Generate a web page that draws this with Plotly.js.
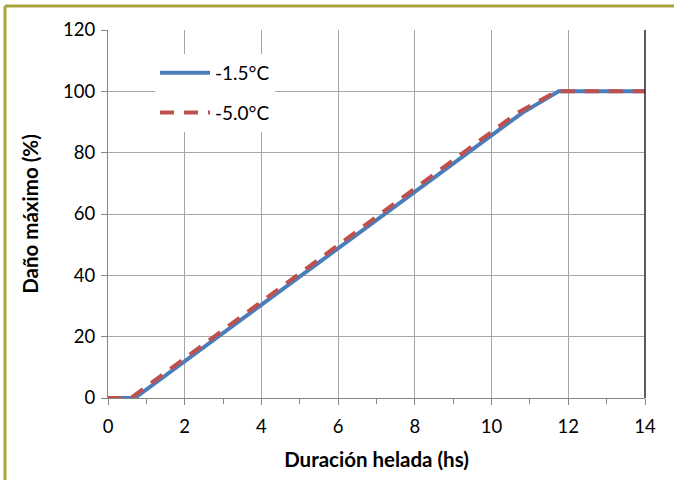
<!DOCTYPE html>
<html>
<head>
<meta charset="utf-8">
<script src="https://cdn.plot.ly/plotly-3.0.1.min.js"></script>
<style>
  html, body { margin: 0; padding: 0; background: #ffffff; }
  #chart { width: 674px; height: 480px; }
</style>
</head>
<body>
<div id="chart"></div>
<script>
// Data
const seriesNames = ["-1.5°C", "-5.0°C"];
const hoursA = [0, 0.7, 10.8, 11.75, 14];
const damageA = [0, 0, 93, 100, 100];
const hoursB = [0, 0.6, 10.65, 11.7, 14];
const damageB = [0, 0, 92.8, 100, 100];
const xTicks = [0, 2, 4, 6, 8, 10, 12, 14];
const yTicks = [0, 20, 40, 60, 80, 100, 120];

const FONT = "Lato, 'Open Sans', sans-serif";

const traces = [
  {
    x: hoursA, y: damageA, name: seriesNames[0], mode: "lines",
    legendgroup: "a",
    line: { color: "#4A7EBB", width: 4 }
  },
  {
    x: hoursB, y: damageB, name: seriesNames[1], mode: "lines",
    legendgroup: "b",
    line: { color: "#C0504D", width: 4, dash: "14px,10px" }
  }
];

// plot area in pixels: left 108, right 645, top 30, bottom 398
const L = 108, R = 645, T = 30, B = 398;
const px = p => (p - L) / (R - L);
const py = p => (B - p) / (B - T);

const layout = {
  width: 674, height: 480,
  margin: { l: L, r: 674 - R, t: T, b: 480 - B },
  paper_bgcolor: "#ffffff",
  plot_bgcolor: "#ffffff",
  font: { family: FONT, size: 18, color: "#000000" },
  showlegend: true,
  legend: {
    x: px(155), y: py(54), xanchor: "left", yanchor: "top",
    bgcolor: "#ffffff", borderwidth: 0,
    font: { family: FONT, size: 19, color: "#000000" },
    itemwidth: 50,
    traceorder: "grouped",
    tracegroupgap: 12
  },
  xaxis: {
    range: [0, 14],
    tickvals: xTicks,
    ticktext: xTicks.map(String),
    showgrid: true, gridcolor: "#A6A6A6", gridwidth: 1,
    zeroline: false,
    showline: true, linecolor: "#868686", linewidth: 1,
    ticks: "outside", ticklen: 6, tickcolor: "#868686",
    ticklabelstandoff: 6,
    minor: { dtick: 1, tick0: 0, ticks: "outside", ticklen: 5, tickcolor: "#868686", showgrid: false },
    tickfont: { family: FONT, size: 18.5 },
    title: { text: "<b>Duración helada (hs)</b>", font: { family: FONT, size: 20.5 }, standoff: 16 }
  },
  yaxis: {
    range: [0, 120],
    tickvals: yTicks,
    ticktext: yTicks.map(String),
    showgrid: true, gridcolor: "#A6A6A6", gridwidth: 1,
    zeroline: false,
    showline: true, linecolor: "#868686", linewidth: 1,
    ticks: "outside", ticklen: 6, tickcolor: "#868686",
    ticklabelstandoff: 2,
    tickfont: { family: FONT, size: 18.5 },
    title: { text: "<b>Daño máximo (%)</b>", font: { family: FONT, size: 20.5 }, standoff: 18 }
  },
  shapes: [
    // dark right edge of plot area
    { type: "line", xref: "paper", yref: "paper", x0: 1, x1: 1, y0: 0, y1: 1,
      line: { color: "#262626", width: 1.5 } },
    // olive frame (top and left)
    { type: "line", xref: "paper", yref: "paper", x0: px(5), x1: px(5), y0: py(480), y1: py(6),
      line: { color: "#A9A43C", width: 3 } },
    { type: "line", xref: "paper", yref: "paper", x0: px(5), x1: px(674), y0: py(6), y1: py(6),
      line: { color: "#A9A43C", width: 3 } }
  ]
};

Plotly.newPlot("chart", traces, layout, { displayModeBar: false, staticPlot: true });
</script>
</body>
</html>
